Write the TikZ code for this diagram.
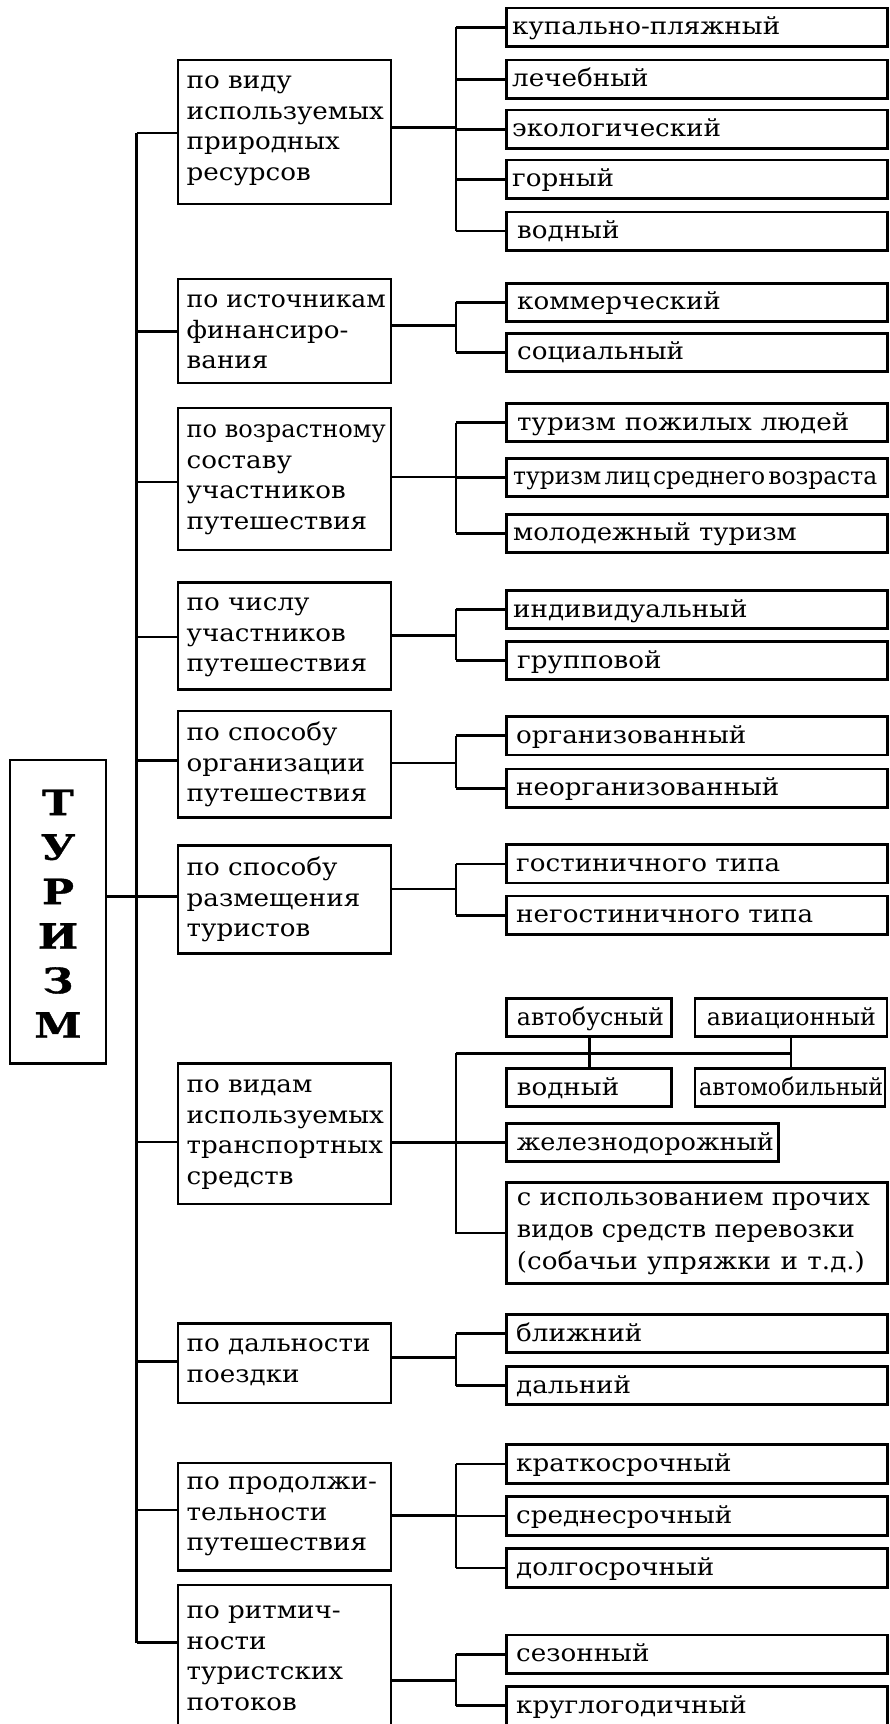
\documentclass[tikz,border=0pt]{standalone}
\usepackage{fontspec}
\setmainfont[FakeStretch=1.09]{DejaVu Serif}
\newfontfamily\titlefont[FakeStretch=1.22,FakeBold=1]{DejaVu Serif}
\usepackage{graphicx}
\newsavebox{\fitbx}
\newcommand{\fitw}[2]{\sbox{\fitbx}{#2}\ifdim\wd\fitbx>#1\relax\resizebox{#1}{\height}{\usebox{\fitbx}}\else\usebox{\fitbx}\fi}
\newcommand{\wfit}[2]{\sbox{\fitbx}{#2}\ifdim\wd\fitbx>#1\relax\resizebox{#1}{\height}{\usebox{\fitbx}}\else\makebox[#1][s]{#2}\fi}
\newcommand{\bxat}[5]{\node[bx,minimum width=#4pt,minimum height=#5pt] (#1) at (#2,#3) {};}
\newcommand{\rtxt}[4]{\node[rtext] (#1) at (#2,#3) {#4};}
\newcommand{\fl}{\rule{0pt}{22pt}}
\newcommand{\tsp}{\hspace{3.5pt}}
\begin{document}
\begin{tikzpicture}[x=1pt,y=-1pt,
  bx/.style={draw,line width=2.6pt,inner sep=0pt,outer sep=0pt,anchor=north west},
  ln/.style={line width=2.6pt},
  ctext/.style={anchor=north west,inner sep=0pt,align=left,font=\fontsize{24}{30.8}\selectfont},
  rtext/.style={anchor=base west,inner sep=0pt,font=\fontsize{24}{30.8}\selectfont},
  mtext/.style={anchor=north,inner sep=0pt,align=center,font=\titlefont\fontsize{35}{44.5}\selectfont\bfseries}]
\useasboundingbox (0,0) rectangle (889,1724);
% main box
\bxat{main}{10}{760}{96}{303.5}
\node[mtext] (mainT) at (58,788) {\rule{0pt}{27pt}Т\\У\\Р\\И\\З\\М};
% category boxes
\bxat{c1}{178}{60}{213}{144}
\bxat{c2}{178}{279}{213}{104}
\bxat{c3}{178}{408}{213}{142}
\bxat{c4}{178}{582.5}{213}{107}
\bxat{c5}{178}{711}{213}{106.5}
\bxat{c6}{178}{845.7}{213}{108}
\bxat{c7}{178}{1063.6}{213}{140.4}
\bxat{c8}{178}{1323.4}{213}{79.6}
\bxat{c9}{178}{1463}{213}{107.5}
\bxat{c10}{178}{1585}{213}{160}
\node[ctext] (c1t) at (186.5,66) {\fl по виду\\\fitw{199pt}{используемых}\\природных\\ресурсов};
\node[ctext] (c2t) at (186.5,285) {\fl\fitw{199pt}{по источникам}\\финансиро-\\вания};
\node[ctext] (c3t) at (186.5,415) {\fl\fitw{199pt}{по возрастному}\\составу\\участников\\путешествия};
\node[ctext] (c4t) at (186.5,588) {\fl по числу\\участников\\путешествия};
\node[ctext] (c5t) at (186.5,718) {\fl по способу\\организации\\путешествия};
\node[ctext] (c6t) at (186.5,853) {\fl по способу\\размещения\\туристов};
\node[ctext] (c7t) at (186.5,1070) {\fl по видам\\\fitw{199pt}{используемых}\\\fitw{199pt}{транспортных}\\средств};
\node[ctext] (c8t) at (186.5,1329) {\fl\fitw{199pt}{по дальности}\\поездки};
\node[ctext] (c9t) at (186.5,1467) {\fl\fitw{199pt}{по продолжи-}\\тельности\\\fitw{199pt}{путешествия}};
\node[ctext] (c10t) at (186.5,1596) {\fl по ритмич-\\ности\\туристских\\потоков};
% right boxes
\bxat{r1a}{506.5}{8}{381}{38.5}
\bxat{r1b}{506.5}{60}{381}{38.5}
\bxat{r1c}{506.5}{110}{381}{38.5}
\bxat{r1d}{506.5}{160}{381}{38.5}
\bxat{r1e}{506.5}{211.8}{381}{38.5}
\bxat{r2a}{506.5}{283.2}{381}{38}
\bxat{r2b}{506.5}{333.2}{381}{38}
\bxat{r3a}{506.5}{403.6}{381}{38}
\bxat{r3b}{506.5}{458.2}{381}{38}
\bxat{r3c}{506.5}{514.3}{381}{38}
\bxat{r4a}{506.5}{590.4}{381}{38}
\bxat{r4b}{506.5}{641.4}{381}{38}
\bxat{r5a}{506.5}{716.4}{381}{38.5}
\bxat{r5b}{506.5}{769}{381}{38.5}
\bxat{r6a}{506.5}{844.6}{381}{38.5}
\bxat{r6b}{506.5}{896}{381}{38.5}
\bxat{r7a}{506.7}{998.3}{165}{38.4}
\bxat{r7b}{695}{998.3}{192}{38.4}
\bxat{r7c}{506.7}{1068.3}{165}{38.4}
\bxat{r7d}{695}{1068.3}{190}{38.4}
\bxat{r7e}{506.7}{1123.3}{271.6}{38.4}
\bxat{r7f}{506.7}{1182.7}{381}{100.6}
\bxat{r8a}{506.5}{1314.5}{381}{38}
\bxat{r8b}{506.5}{1366.5}{381}{38}
\bxat{r9a}{506.5}{1444.7}{381}{38.5}
\bxat{r9b}{506.5}{1496.7}{381}{38.5}
\bxat{r9c}{506.5}{1548.7}{381}{38.5}
\bxat{r10a}{506.5}{1635}{381}{38.5}
\bxat{r10b}{506.5}{1686.3}{381}{60}
% right texts
\rtxt{r1at}{512}{34}{купально-пляжный}
\rtxt{r1bt}{512}{86}{лечебный}
\rtxt{r1ct}{512}{136}{экологический}
\rtxt{r1dt}{512}{186}{горный}
\rtxt{r1et}{517}{238}{водный}
\rtxt{r2at}{517}{309.5}{коммерческий}
\rtxt{r2bt}{517}{359.5}{социальный}
\rtxt{r3at}{517}{430}{\wfit{332pt}{туризм пожилых людей}}
\rtxt{r3bt}{513}{484.5}{\fitw{364pt}{туризм\tsp лиц\tsp среднего\tsp возраста}}
\rtxt{r3ct}{513}{540.5}{\wfit{283.5pt}{молодежный туризм}}
\rtxt{r4at}{513}{617}{индивидуальный}
\rtxt{r4bt}{517}{668}{групповой}
\rtxt{r5at}{516}{743}{организованный}
\rtxt{r5bt}{516}{795.5}{неорганизованный}
\rtxt{r6at}{516}{871}{гостиничного типа}
\rtxt{r6bt}{516}{922.5}{негостиничного типа}
\rtxt{r7at}{516.7}{1025}{\fitw{147pt}{автобусный}}
\rtxt{r7bt}{706.7}{1025}{\fitw{169pt}{авиационный}}
\rtxt{r7ct}{516.7}{1095}{водный}
\rtxt{r7dt}{699}{1095}{\fitw{184pt}{автомобильный}}
\rtxt{r7et}{516.7}{1150}{\fitw{257pt}{железнодорожный}}
\node[ctext,font=\fontsize{24}{31.9}\selectfont] (r7ft) at (516.7,1183) {\fl\wfit{353pt}{с использованием прочих}\\\wfit{338pt}{видов средств перевозки}\\\wfit{348pt}{(собачьи упряжки и т.д.)}};
\rtxt{r8at}{516}{1341}{ближний}
\rtxt{r8bt}{516}{1393}{дальний}
\rtxt{r9at}{516}{1471}{краткосрочный}
\rtxt{r9bt}{516}{1523}{среднесрочный}
\rtxt{r9ct}{516}{1575}{долгосрочный}
\rtxt{r10at}{516}{1661.5}{сезонный}
\rtxt{r10bt}{516}{1713}{круглогодичный}
% trunk
\coordinate (t1) at (136.5,133);
\coordinate (t2) at (136.5,331.4);
\coordinate (t3) at (136.5,482);
\coordinate (t4) at (136.5,636.8);
\coordinate (t5) at (136.5,760.7);
\coordinate (t6) at (136.5,896.5);
\coordinate (t7) at (136.5,1142);
\coordinate (t8) at (136.5,1361.5);
\coordinate (t9) at (136.5,1509.8);
\coordinate (t10) at (136.5,1642.7);
\draw[ln] (t1) -- (t10);
\draw[ln] (t1) -- (c1.west |- t1);
\draw[ln] (t2) -- (c2.west |- t2);
\draw[ln] (t3) -- (c3.west |- t3);
\draw[ln] (t4) -- (c4.west |- t4);
\draw[ln] (t5) -- (c5.west |- t5);
\draw[ln] (main.east |- t6) -- (c6.west |- t6);
\draw[ln] (t7) -- (c7.west |- t7);
\draw[ln] (t8) -- (c8.west |- t8);
\draw[ln] (t9) -- (c9.west |- t9);
\draw[ln] (t10) -- (c10.west |- t10);
% group junctions
\coordinate (j1) at (456,127.5);
\coordinate (j2) at (456,325.7);
\coordinate (j3) at (456,476.8);
\coordinate (j4) at (456,635.7);
\coordinate (j5) at (456,762.9);
\coordinate (j6) at (456,889);
\coordinate (j8) at (456,1357.7);
\coordinate (j9) at (456,1515.6);
\coordinate (j10) at (456,1680.5);
% group 1
\draw[ln] (c1.east |- j1) -- (j1);
\draw[ln] (j1 |- r1a.west) -- (j1 |- r1e.west);
\foreach \r in {r1a,r1b,r1c,r1d,r1e} \draw[ln] (j1 |- \r.west) -- (\r.west);
% group 2
\draw[ln] (c2.east |- j2) -- (j2);
\draw[ln] (j2 |- r2a.west) -- (j2 |- r2b.west);
\foreach \r in {r2a,r2b} \draw[ln] (j2 |- \r.west) -- (\r.west);
% group 3
\draw[ln] (c3.east |- j3) -- (j3);
\draw[ln] (j3 |- r3a.west) -- (j3 |- r3c.west);
\foreach \r in {r3a,r3b,r3c} \draw[ln] (j3 |- \r.west) -- (\r.west);
% group 4
\draw[ln] (c4.east |- j4) -- (j4);
\draw[ln] (j4 |- r4a.west) -- (j4 |- r4b.west);
\foreach \r in {r4a,r4b} \draw[ln] (j4 |- \r.west) -- (\r.west);
% group 5
\draw[ln] (c5.east |- j5) -- (j5);
\draw[ln] (j5 |- r5a.west) -- (j5 |- r5b.west);
\foreach \r in {r5a,r5b} \draw[ln] (j5 |- \r.west) -- (\r.west);
% group 6
\draw[ln] (c6.east |- j6) -- (j6);
\draw[ln] (j6 |- r6a.west) -- (j6 |- r6b.west);
\foreach \r in {r6a,r6b} \draw[ln] (j6 |- \r.west) -- (\r.west);
% group 7
\coordinate (h7) at (456,1053.3);
\draw[ln] (c7.east |- r7e.west) -- (r7e.west);
\draw[ln] (h7) -- (h7 |- r7f.west) -- (r7f.west);
\draw[ln] (h7) -- (h7 -| r7b.south);
\draw[ln] (r7a.south) -- (r7a.south |- r7c.north);
\draw[ln] (r7b.south) -- (r7b.south |- r7d.north);
% group 8
\draw[ln] (c8.east |- j8) -- (j8);
\draw[ln] (j8 |- r8a.west) -- (j8 |- r8b.west);
\foreach \r in {r8a,r8b} \draw[ln] (j8 |- \r.west) -- (\r.west);
% group 9
\draw[ln] (c9.east |- j9) -- (j9);
\draw[ln] (j9 |- r9a.west) -- (j9 |- r9c.west);
\foreach \r in {r9a,r9b,r9c} \draw[ln] (j9 |- \r.west) -- (\r.west);
% group 10
\draw[ln] (c10.east |- j10) -- (j10);
\coordinate (k10) at (456,1705.5);
\draw[ln] (j10 |- r10a.west) -- (k10);
\draw[ln] (j10 |- r10a.west) -- (r10a.west);
\draw[ln] (k10) -- (k10 -| r10b.west);
\end{tikzpicture}
\end{document}
